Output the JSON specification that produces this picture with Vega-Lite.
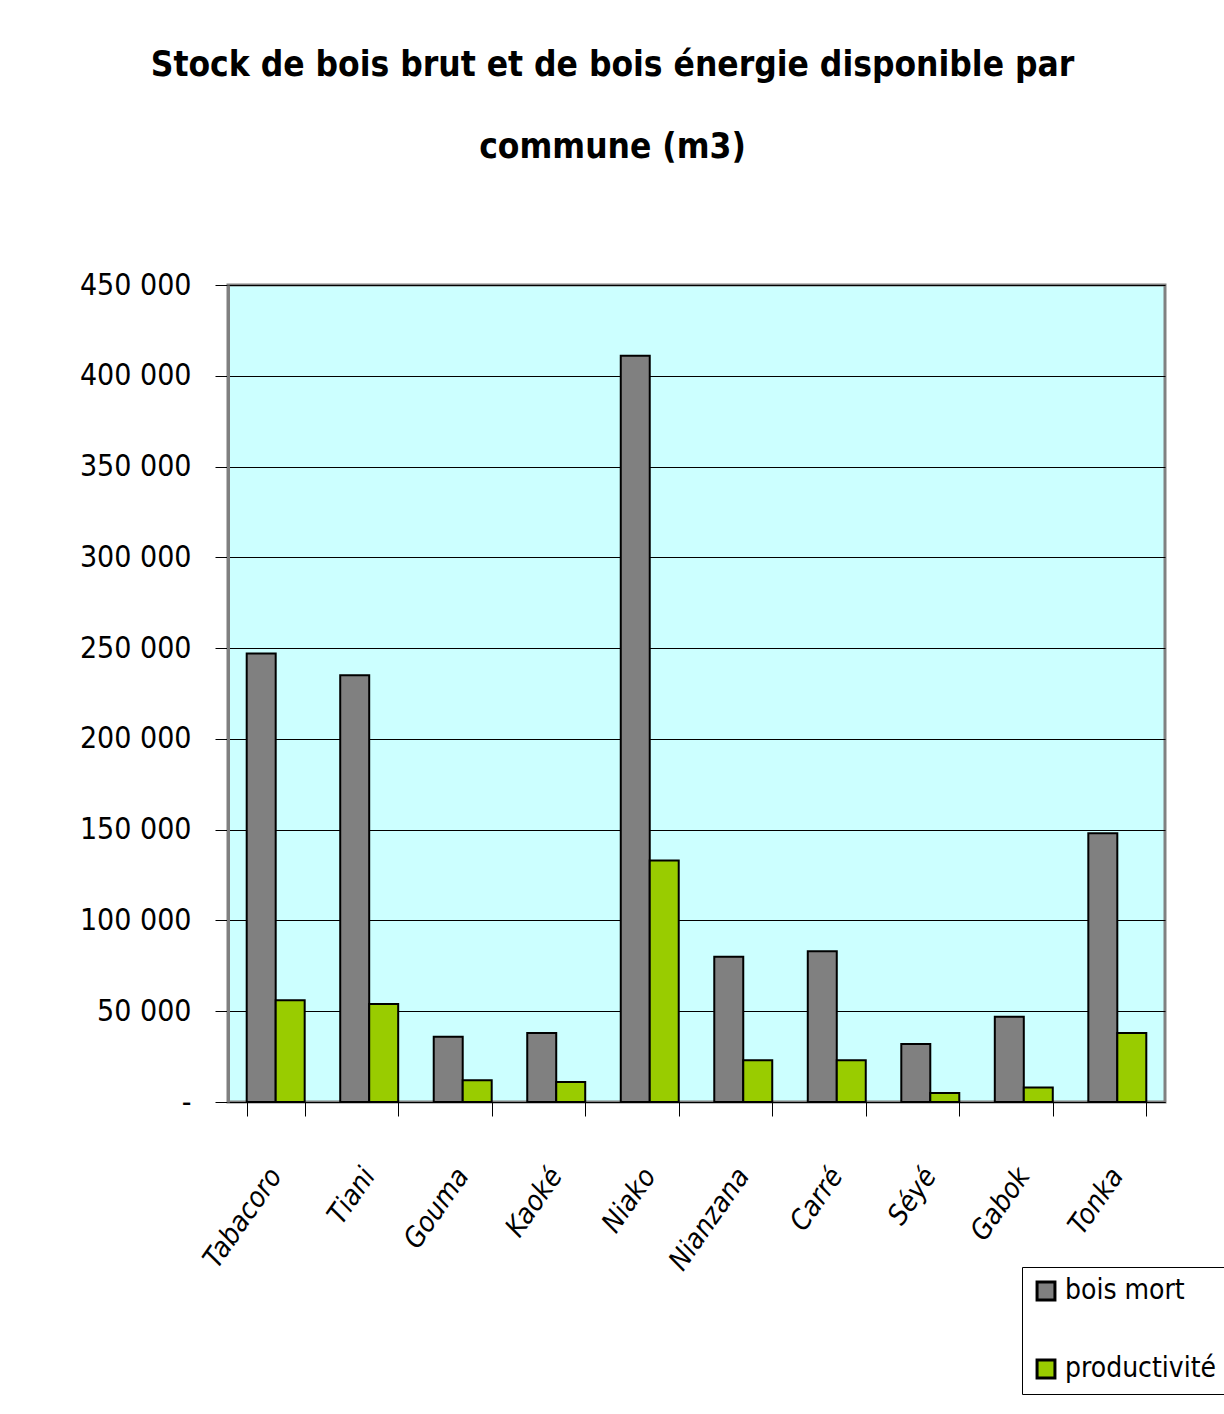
{
  "$schema": "https://vega.github.io/schema/vega-lite/v6.json",
  "autosize": "none",
  "width": 937,
  "height": 817,
  "padding": {"left": 228, "top": 285, "right": 59, "bottom": 312},
  "background": "white",
  "title": {
    "text": ["Stock de bois brut et de bois énergie disponible par", "commune (m3)"],
    "font": "'DejaVu Sans Condensed', 'Liberation Sans', sans-serif",
    "fontSize": 35,
    "fontWeight": "bold",
    "lineHeight": 82,
    "anchor": "middle",
    "dx": -84,
    "offset": 105,
    "color": "black"
  },
  "data": {
    "values": [
      {"commune": "Tabacoro", "serie": "bois mort", "value": 247000},
      {"commune": "Tabacoro", "serie": "productivité", "value": 56000},
      {"commune": "Tiani", "serie": "bois mort", "value": 235000},
      {"commune": "Tiani", "serie": "productivité", "value": 54000},
      {"commune": "Gouma", "serie": "bois mort", "value": 36000},
      {"commune": "Gouma", "serie": "productivité", "value": 12000},
      {"commune": "Kaoké", "serie": "bois mort", "value": 38000},
      {"commune": "Kaoké", "serie": "productivité", "value": 11000},
      {"commune": "Niako", "serie": "bois mort", "value": 411000},
      {"commune": "Niako", "serie": "productivité", "value": 133000},
      {"commune": "Nianzana", "serie": "bois mort", "value": 80000},
      {"commune": "Nianzana", "serie": "productivité", "value": 23000},
      {"commune": "Carré", "serie": "bois mort", "value": 83000},
      {"commune": "Carré", "serie": "productivité", "value": 23000},
      {"commune": "Séyé", "serie": "bois mort", "value": 32000},
      {"commune": "Séyé", "serie": "productivité", "value": 5000},
      {"commune": "Gabok", "serie": "bois mort", "value": 47000},
      {"commune": "Gabok", "serie": "productivité", "value": 8000},
      {"commune": "Tonka", "serie": "bois mort", "value": 148000},
      {"commune": "Tonka", "serie": "productivité", "value": 38000}
    ]
  },
  "config": {
    "view": {"fill": "#CCFFFF", "stroke": "#808080", "strokeWidth": 3},
    "font": "'DejaVu Sans Condensed', 'Liberation Sans', sans-serif"
  },
  "mark": {"type": "bar", "stroke": "black", "strokeWidth": 2},
  "encoding": {
    "x": {
      "field": "commune",
      "type": "nominal",
      "sort": null,
      "scale": {"paddingInner": 0.38, "paddingOuter": 0.2},
      "axis": {
        "title": null,
        "labelAngle": -55,
        "labelFont": "'DejaVu Sans Condensed', 'Liberation Sans', sans-serif",
        "labelFontStyle": "italic",
        "labelFontSize": 28,
        "labelColor": "black",
        "labelPadding": 55,
        "tickBand": "extent",
        "tickColor": "black",
        "tickSize": 14,
        "domainColor": "black",
        "domainWidth": 1
      }
    },
    "xOffset": {"field": "serie", "type": "nominal"},
    "y": {
      "field": "value",
      "type": "quantitative",
      "scale": {"domain": [0, 450000]},
      "axis": {
        "title": null,
        "values": [0, 50000, 100000, 150000, 200000, 250000, 300000, 350000, 400000, 450000],
        "labelExpr": "datum.value == 0 ? '-' : format(datum.value / 1000, 'd') + ' 000'",
        "labelFont": "'DejaVu Sans Condensed', 'Liberation Sans', sans-serif",
        "labelFontSize": 30,
        "labelColor": "black",
        "labelPadding": 24,
        "tickColor": "black",
        "tickSize": 13,
        "domainColor": "#808080",
        "domainWidth": 3,
        "gridColor": "black",
        "gridWidth": 1
      }
    },
    "color": {
      "field": "serie",
      "type": "nominal",
      "scale": {"domain": ["bois mort", "productivité"], "range": ["#808080", "#99CC00"]},
      "legend": {
        "title": null,
        "orient": "none",
        "legendX": 794,
        "legendY": 982,
        "symbolType": "square",
        "symbolSize": 320,
        "symbolStrokeColor": "black",
        "symbolStrokeWidth": 3,
        "labelFont": "'DejaVu Sans Condensed', 'Liberation Sans', sans-serif",
        "labelFontSize": 28,
        "labelLimit": 300,
        "labelOffset": 5,
        "labelColor": "black",
        "rowPadding": 48,
        "padding": 10,
        "strokeColor": "black",
        "fillColor": "white"
      }
    }
  }
}
